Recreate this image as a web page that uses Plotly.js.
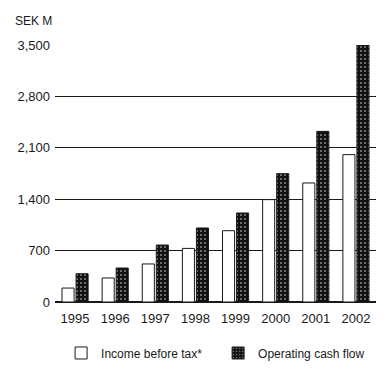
<!DOCTYPE html>
<html>
<head>
<meta charset="utf-8">
<script src="https://cdn.plot.ly/plotly-3.0.1.min.js"></script>
<style>
  html, body { margin: 0; padding: 0; background: #fff; }
  #chart { width: 385px; height: 371px; }
</style>
</head>
<body>
<div id="chart"></div>
<script>
// Annual figures, SEK millions
const years = ['1995', '1996', '1997', '1998', '1999', '2000', '2001', '2002'];
const incomeBeforeTax = [190, 327, 518, 730, 971, 1394, 1621, 2007];
const operatingCashFlow = [385, 463, 776, 1008, 1212, 1748, 2324, 3500];
const yTicks = [0, 700, 1400, 2100, 2800, 3500];
const yTickText = ['0', '700', '1,400', '2,100', '2,800', '3,500'];

const FONT = 'Liberation Sans, Arial, sans-serif';
const INK = '#1a1a1a';

const traces = [
  {
    type: 'bar',
    name: 'Income before tax*',
    x: years,
    y: incomeBeforeTax,
    marker: { color: '#ffffff', line: { color: INK, width: 1 } }
  },
  {
    type: 'bar',
    name: 'Operating cash flow',
    x: years,
    y: operatingCashFlow,
    marker: {
      color: '#111111',
      line: { color: INK, width: 1 },
      pattern: { shape: '.', bgcolor: '#111111', fgcolor: '#e8e8e8', size: 4, solidity: 0.12 }
    }
  }
];

const layout = {
  width: 385,
  height: 371,
  margin: { l: 55, r: 9, t: 45, b: 69, pad: 0, autoexpand: false },
  paper_bgcolor: '#ffffff',
  plot_bgcolor: '#ffffff',
  font: { family: FONT, size: 13, color: INK },
  barmode: 'group',
  bargap: 0.3,
  bargroupgap: 0.14,
  showlegend: true,
  legend: {
    orientation: 'h',
    x: 0.019,
    xanchor: 'left',
    y: -0.142,
    yanchor: 'top',
    font: { family: FONT, size: 12, color: INK },
    entrywidth: 112,
    bgcolor: 'rgba(0,0,0,0)'
  },
  xaxis: {
    type: 'category',
    showgrid: false,
    showline: false,
    ticks: '',
    ticklabelstandoff: 7,
    tickfont: { family: FONT, size: 13, color: INK },
    fixedrange: true
  },
  yaxis: {
    range: [0, 3500],
    tickvals: yTicks,
    ticktext: yTickText,
    showgrid: true,
    gridcolor: INK,
    gridwidth: 1.3,
    zeroline: true,
    zerolinecolor: INK,
    zerolinewidth: 1.5,
    showline: false,
    ticks: '',
    ticklabelstandoff: 4,
    tickfont: { family: FONT, size: 13, color: INK },
    fixedrange: true
  },
  annotations: [
    {
      text: 'SEK M',
      xref: 'paper', yref: 'paper',
      x: -0.13, y: 1.095,
      xanchor: 'left', yanchor: 'middle',
      showarrow: false,
      font: { family: FONT, size: 12, color: INK }
    }
  ]
};

Plotly.newPlot('chart', traces, layout, { staticPlot: true, displayModeBar: false });
</script>
</body>
</html>
